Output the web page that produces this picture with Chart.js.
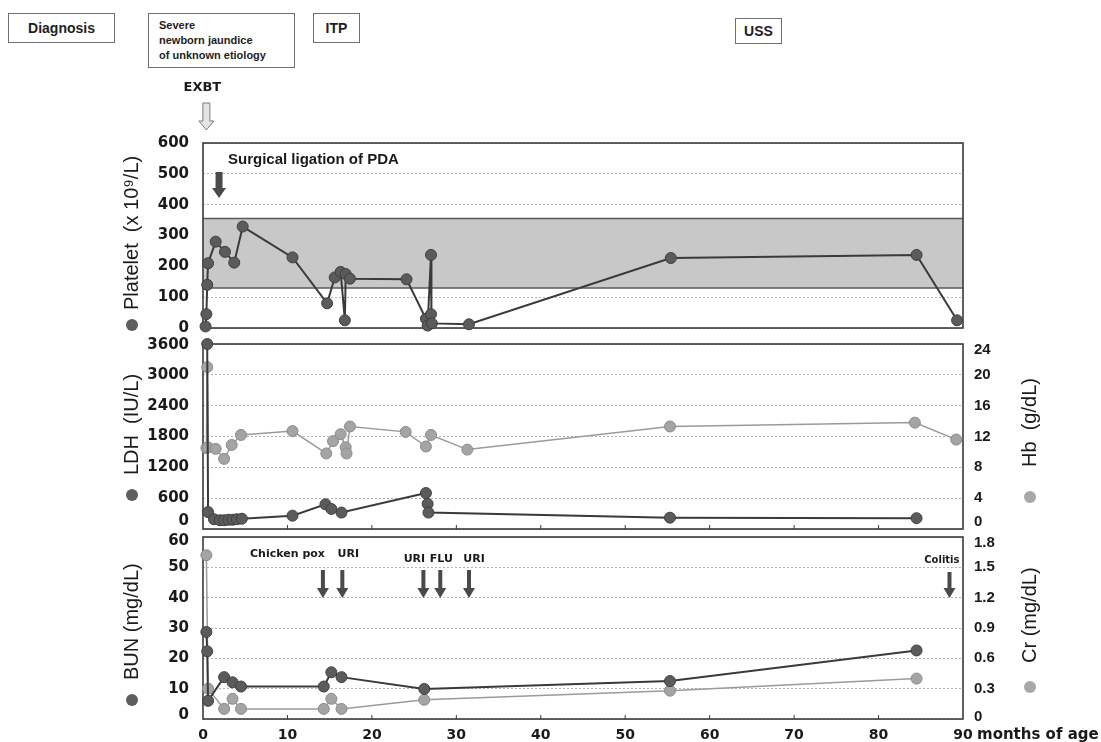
<!DOCTYPE html>
<html>
<head>
<meta charset="utf-8">
<title>Clinical course</title>
<script src="https://cdn.jsdelivr.net/npm/chart.js@4.4.1/dist/chart.umd.min.js"></script>
<style>
  html, body { margin: 0; padding: 0; background: #fff; }
  body { width: 1101px; height: 742px; position: relative; overflow: hidden;
         font-family: "Liberation Sans", Arial, sans-serif; }
  canvas { position: absolute; left: 0; }
  .tag { position: absolute; box-sizing: border-box; border: 1px solid #6f6f6f;
         font-weight: bold; color: #1e1e1e; background: #fff; }
</style>
</head>
<body>
<div class="tag" style="left:8px;top:13px;width:107px;height:30px;font-size:14px;line-height:28px;text-align:center;">Diagnosis</div>
<div class="tag" style="left:148px;top:13px;width:147px;height:55px;font-size:11px;line-height:15px;padding:4px 0 0 10px;">Severe<br>newborn jaundice<br>of unknown etiology</div>
<div class="tag" style="left:313px;top:13px;width:47px;height:30px;font-size:14px;line-height:28px;text-align:center;">ITP</div>
<div class="tag" style="left:735px;top:18px;width:47px;height:26px;font-size:14px;line-height:24px;text-align:center;">USS</div>

<canvas id="cPlt" width="1101" height="336" style="top:0"></canvas>
<canvas id="cLdh" width="1101" height="200" style="top:336px"></canvas>
<canvas id="cBun" width="1101" height="212" style="top:530px"></canvas>

<script>
// ---- data (age in months) ----
const plateletMonths = [0.3, 0.4, 0.5, 0.6, 1.5, 2.6, 3.7, 4.7, 10.6, 14.7, 15.6, 16.3, 16.8, 16.9, 17.4, 24.1, 26.4, 26.6, 27.0, 27.0, 27.1, 31.5, 55.4, 84.5, 89.3];
const plateletValues = [5, 45, 140, 210, 280, 247, 212, 329, 229, 80, 164, 182, 25, 175, 160, 158, 30, 8, 237, 45, 15, 12, 227, 237, 25];
const plateletNormalRange = [130, 355];

const ldhMonths = [0.5, 0.6, 1.3, 2.0, 2.5, 3.0, 3.5, 4.0, 4.6, 10.6, 14.5, 15.2, 16.4, 26.4, 26.6, 26.7, 55.3, 84.5];
const ldhValues = [3600, 330, 190, 170, 170, 180, 180, 190, 200, 260, 480, 390, 320, 700, 490, 320, 220, 210];

const hbMonths = [0.4, 0.5, 0.6, 1.5, 2.5, 3.4, 4.5, 10.6, 14.6, 15.4, 16.3, 16.9, 17.0, 17.4, 24.0, 26.4, 27.0, 31.3, 55.3, 84.3, 89.2];
const hbValues = [10.5, 21.0, 10.6, 10.4, 9.1, 10.9, 12.2, 12.7, 9.8, 11.4, 12.3, 10.6, 9.8, 13.3, 12.6, 10.7, 12.2, 10.3, 13.3, 13.8, 11.6];

const bunMonths = [0.4, 0.5, 0.6, 2.5, 3.5, 4.5, 14.3, 15.2, 16.4, 26.2, 55.3, 84.5];
const bunValues = [28.7, 22.3, 6.0, 13.8, 12.1, 10.7, 10.7, 15.4, 13.8, 9.9, 12.5, 22.6];

const crMonths = [0.4, 0.6, 2.5, 3.5, 4.5, 14.3, 15.2, 16.4, 26.2, 55.3, 84.5];
const crValues = [1.62, 0.30, 0.10, 0.20, 0.10, 0.10, 0.20, 0.10, 0.19, 0.28, 0.40];

// clinical events marked with arrows
const eventLabels = ['Chicken pox', 'URI', 'URI', 'FLU', 'URI', 'Colitis'];
const eventMonths = [14.2, 16.5, 26.1, 28.1, 31.5, 88.4];
const exbtMonth = 0.4;
const pdaLigationMonth = 1.9;

// ---- styling ----
const FONT = '"Liberation Sans", Arial, sans-serif';
const BOLD = '"DejaVu Sans", "Liberation Sans", sans-serif';
const INK = '#1a1a1a';
const DARK = { line: '#3a3a3a', fill: '#5b5b5b', edge: '#3f3f3f', width: 2 };
const LIGHT = { line: '#9a9a9a', fill: '#a4a4a4', edge: '#8a8a8a', width: 1.5 };
// text placement of event labels relative to their arrows
const eventLabelLayout = [
  { align: 'right', dx: 2, dy: 17 }, { align: 'center', dx: 6, dy: 17 },
  { align: 'center', dx: -9, dy: 22 }, { align: 'center', dx: 1, dy: 22 },
  { align: 'center', dx: 5, dy: 22 }, { align: 'right', dx: 10, dy: 23 }
];

const toPoints = (xs, ys) => xs.map((x, i) => ({ x, y: ys[i] }));

function series(label, xs, ys, axis, tone, order) {
  return {
    label, data: toPoints(xs, ys), yAxisID: axis,
    borderColor: tone.line, borderWidth: tone.width, tension: 0,
    pointRadius: 5.5, pointHoverRadius: 5.5,
    pointBackgroundColor: tone.fill, pointBorderColor: tone.edge, pointBorderWidth: 1,
    clip: false, order
  };
}

// y axes: fixed widths so all three panels share one plot frame,
// and no extra end-label padding so the frames sit where the layout puts them
const fixY = width => s => { s.width = width; s.paddingTop = 0; s.paddingBottom = 0; };

function xAxis(show) {
  return {
    type: 'linear', min: 0, max: 90, display: show,
    grid: { display: false, drawTicks: false }, border: { display: false },
    ticks: { stepSize: 10, padding: 8, maxRotation: 0, color: INK,
             font: { family: BOLD, size: 14, weight: 'bold' } },
    afterFit: s => { s.height = show ? 23 : 0; }
  };
}

function leftAxis(min, max, step) {
  return {
    type: 'linear', position: 'left', min, max,
    ticks: { stepSize: step, padding: 14, color: INK, callback: v => String(v),
             font: { family: BOLD, size: 15, weight: 'bold' } },
    grid: { color: '#b3b3b3', lineWidth: 1, drawTicks: false },
    border: { display: false, dash: [2, 2] },
    afterFit: fixY(203)
  };
}

function rightAxis(min, max, step) {
  return {
    type: 'linear', position: 'right', min, max,
    ticks: { stepSize: step, padding: 11, color: INK,
             callback: v => String(Math.round(v * 10) / 10),
             font: { family: FONT, size: 15, weight: 'bold' } },
    grid: { display: false, drawTicks: false },
    border: { display: false },
    afterFit: fixY(138)
  };
}

// ---- drawing helpers ----
function arrow(ctx, x, y0, y1, shaft, head, headH, fill, stroke) {
  ctx.save();
  ctx.beginPath();
  ctx.moveTo(x - shaft / 2, y0);
  ctx.lineTo(x + shaft / 2, y0);
  ctx.lineTo(x + shaft / 2, y1 - headH);
  ctx.lineTo(x + head / 2, y1 - headH);
  ctx.lineTo(x, y1);
  ctx.lineTo(x - head / 2, y1 - headH);
  ctx.lineTo(x - shaft / 2, y1 - headH);
  ctx.closePath();
  ctx.fillStyle = fill;
  ctx.fill();
  if (stroke) { ctx.strokeStyle = stroke; ctx.lineWidth = 1; ctx.stroke(); }
  ctx.restore();
}

function caption(ctx, text, x, yStart, dotY, dotColor) {
  ctx.save();
  ctx.translate(x, yStart);
  ctx.rotate(-Math.PI / 2);
  ctx.fillStyle = INK;
  ctx.font = '20px ' + FONT;
  ctx.textAlign = 'left';
  ctx.textBaseline = 'middle';
  ctx.fillText(text, 0, 0);
  ctx.restore();
  ctx.beginPath();
  ctx.arc(x, dotY, 6, 0, Math.PI * 2);
  ctx.fillStyle = dotColor;
  ctx.fill();
}

// moves the end tick labels of an axis inward (first = bottom, last = top)
function nudgeEndLabels(scale, dyFirst, dyLast) {
  const items = scale.getLabelItems();
  if (!items.length || items._nudged) return;
  items[0].options.translation[1] += dyFirst;
  items[items.length - 1].options.translation[1] += dyLast;
  items._nudged = true;
}

function panelPlugin(opts) {
  return {
    id: 'panel',
    beforeDraw(chart) {
      (opts.nudge || []).forEach(([id, a, b]) => nudgeEndLabels(chart.scales[id], a, b));
    },
    beforeDatasetsDraw(chart) {
      const { ctx, chartArea: ca, scales } = chart;
      if (opts.band) {
        const yTop = scales.y.getPixelForValue(opts.band[1]);
        const yBot = scales.y.getPixelForValue(opts.band[0]);
        ctx.save();
        ctx.fillStyle = '#c8c8c8';
        ctx.fillRect(ca.left, yTop, ca.right - ca.left, yBot - yTop);
        ctx.strokeStyle = '#5a5a5a';
        ctx.lineWidth = 1.5;
        ctx.beginPath();
        ctx.moveTo(ca.left, yTop); ctx.lineTo(ca.right, yTop);
        ctx.moveTo(ca.left, yBot); ctx.lineTo(ca.right, yBot);
        ctx.stroke();
        ctx.restore();
      }
      ctx.save();
      ctx.strokeStyle = '#3a3a3a';
      ctx.lineWidth = 1.6;
      ctx.strokeRect(ca.left, ca.top, ca.right - ca.left, ca.bottom - ca.top);
      if (opts.ticks) {
        ctx.lineWidth = 1;
        ctx.beginPath();
        for (let m = 10; m < 90; m += 10) {
          const x = scales.x.getPixelForValue(m);
          ctx.moveTo(x, ca.bottom); ctx.lineTo(x, ca.bottom - 4);
        }
        ctx.stroke();
      }
      ctx.restore();
    },
    afterDraw(chart) {
      const { ctx } = chart;
      if (opts.extra) opts.extra(chart);
      (opts.captions || []).forEach(c => caption(ctx, c.text, c.x, c.y, c.dot, c.color));
    }
  };
}

Chart.defaults.animation = false;
Chart.defaults.responsive = false;
Chart.defaults.plugins.legend.display = false;
Chart.defaults.plugins.tooltip.enabled = false;
Chart.defaults.font.family = FONT;

// ---- platelet panel ----
new Chart(document.getElementById('cPlt'), {
  type: 'line',
  data: { datasets: [series('Platelet', plateletMonths, plateletValues, 'y', DARK, 0)] },
  options: {
    layout: { padding: { top: 143, bottom: 8, left: 0, right: 138 } },
    scales: { x: xAxis(false), y: leftAxis(0, 600, 100) }
  },
  plugins: [panelPlugin({
    band: plateletNormalRange,
    captions: [{ text: 'Platelet  (x 10\u2079/L)', x: 132, y: 310, dot: 325, color: '#5e5e5e' }],
    extra(chart) {
      const { ctx, chartArea: ca, scales } = chart;
      ctx.save();
      ctx.fillStyle = INK;
      ctx.font = 'bold 15px ' + FONT;
      ctx.textBaseline = 'middle';
      ctx.textAlign = 'left';
      ctx.fillText('Surgical ligation of PDA', ca.left + 25, ca.top + 17);
      arrow(ctx, scales.x.getPixelForValue(pdaLigationMonth), ca.top + 29, ca.top + 55, 7, 14, 10, '#4a4a4a');
      const ex = scales.x.getPixelForValue(exbtMonth);
      ctx.font = 'bold 13px ' + BOLD;
      ctx.textAlign = 'center';
      ctx.fillText('EXBT', ex - 4, ca.top - 55);
      arrow(ctx, ex, ca.top - 40, ca.top - 13, 7, 15, 9, '#e4e4e4', '#7a7a7a');
      ctx.restore();
    }
  })]
});

// ---- LDH / Hb panel ----
new Chart(document.getElementById('cLdh'), {
  type: 'line',
  data: { datasets: [
    series('LDH', ldhMonths, ldhValues, 'y', DARK, 0),
    series('Hb', hbMonths, hbValues, 'y2', LIGHT, 1)
  ] },
  options: {
    layout: { padding: { top: 8, bottom: 7, left: 0, right: 0 } },
    scales: { x: xAxis(false), y: leftAxis(0, 3600, 600), y2: rightAxis(0, 24, 4) }
  },
  plugins: [panelPlugin({
    ticks: true,
    nudge: [['y', -8, 1], ['y2', -7, 6]],
    captions: [
      { text: 'LDH  (IU/L)', x: 132, y: 139, dot: 159, color: '#5e5e5e' },
      { text: 'Hb  (g/dL)', x: 1030, y: 131, dot: 161, color: '#a8a8a8' }
    ]
  })]
});

// ---- BUN / Cr panel ----
new Chart(document.getElementById('cBun'), {
  type: 'line',
  data: { datasets: [
    series('BUN', bunMonths, bunValues, 'y', DARK, 0),
    series('Cr', crMonths, crValues, 'y2', LIGHT, 1)
  ] },
  options: {
    layout: { padding: { top: 7, bottom: 0, left: 0, right: 0 } },
    scales: { x: xAxis(true), y: leftAxis(0, 60, 10), y2: rightAxis(0, 1.8, 0.3) }
  },
  plugins: [panelPlugin({
    ticks: true,
    nudge: [['y', -4, 4], ['y2', -2, 6]],
    captions: [
      { text: 'BUN (mg/dL)', x: 132, y: 150, dot: 170, color: '#5e5e5e' },
      { text: 'Cr (mg/dL)', x: 1030, y: 133, dot: 157, color: '#a8a8a8' }
    ],
    extra(chart) {
      const { ctx, chartArea: ca, scales } = chart;
      ctx.save();
      ctx.fillStyle = INK;
      ctx.textBaseline = 'middle';
      eventMonths.forEach((m, i) => {
        const x = scales.x.getPixelForValue(m);
        const lay = eventLabelLayout[i];
        const last = i === eventMonths.length - 1;
        ctx.font = 'bold ' + (last ? 10 : 11) + 'px ' + BOLD;
        ctx.textAlign = lay.align;
        ctx.fillText(eventLabels[i], x + lay.dx, ca.top + lay.dy);
        arrow(ctx, x, ca.top + (last ? 35 : 33), ca.top + 61, 4, 12, 10, '#4a4a4a');
      });
      ctx.font = 'bold 15px ' + BOLD;
      ctx.textAlign = 'left';
      ctx.fillText('months of age', scales.x.getPixelForValue(90) + 14, ca.bottom + 16);
      ctx.restore();
    }
  })]
});
</script>
</body>
</html>
